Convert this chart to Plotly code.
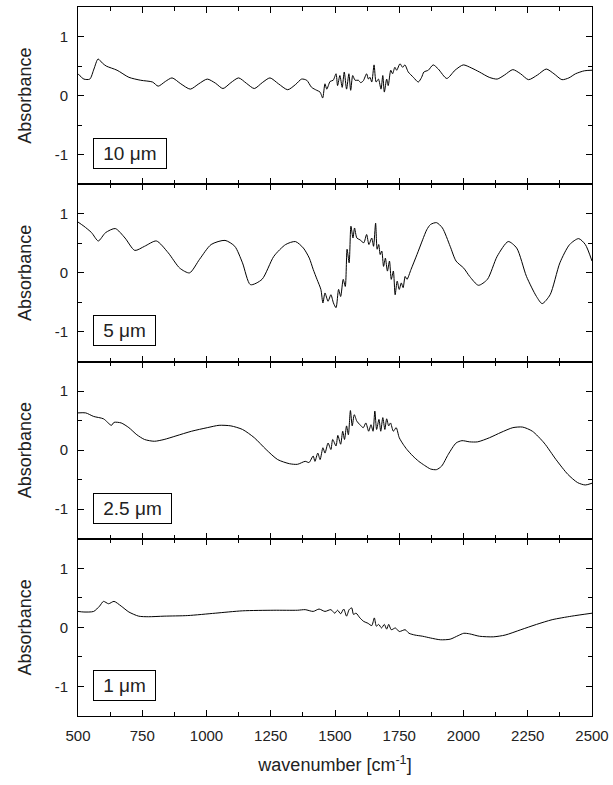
import plotly.graph_objects as go
from plotly.subplots import make_subplots

# ---------------- data ----------------
wn_10 = [500, 523, 546, 562, 578, 595, 610, 652, 698, 744, 790, 812, 840, 866, 900, 937, 970, 1003,
         1035, 1064, 1095, 1125, 1155, 1186, 1217, 1247, 1280, 1316, 1347, 1370, 1390, 1409, 1429,
         1442, 1452, 1461, 1468, 1481, 1493, 1504, 1510, 1519, 1528, 1536, 1545, 1554, 1561, 1569,
         1578, 1591, 1600, 1610, 1623, 1630, 1636, 1643, 1652, 1660, 1669, 1679, 1686, 1692, 1701,
         1707, 1717, 1724, 1733, 1740, 1753, 1763, 1772, 1785, 1805, 1824, 1837, 1846, 1863, 1882,
         1902, 1935, 1967, 1999, 2030, 2062, 2100, 2131, 2160, 2192, 2222, 2253, 2288, 2322, 2352,
         2383, 2410, 2436, 2470, 2500]
abs_10 = [0.37, 0.28, 0.28, 0.45, 0.62, 0.55, 0.50, 0.43, 0.31, 0.26, 0.23, 0.16, 0.24, 0.30, 0.20,
          0.11, 0.20, 0.28, 0.21, 0.12, 0.22, 0.30, 0.21, 0.12, 0.22, 0.30, 0.20, 0.10, 0.19, 0.28,
          0.26, 0.14, 0.09, 0.06, -0.04, 0.20, 0.11, 0.24, 0.26, 0.37, 0.17, 0.34, 0.14, 0.40, 0.11,
          0.37, 0.09, 0.34, 0.26, 0.26, 0.22, 0.25, 0.37, 0.28, 0.31, 0.23, 0.52, 0.23, 0.28, 0.11,
          0.34, 0.06, 0.28, 0.17, 0.43, 0.37, 0.48, 0.43, 0.54, 0.48, 0.52, 0.40, 0.31, 0.23, 0.31,
          0.40, 0.43, 0.52, 0.45, 0.29, 0.43, 0.52, 0.47, 0.40, 0.31, 0.28, 0.35, 0.44, 0.37, 0.27,
          0.35, 0.45, 0.37, 0.27, 0.30, 0.37, 0.42, 0.43]

wn_5 = [500, 523, 553, 579, 607, 645, 683, 721, 759, 805, 851, 896, 934, 973, 1018, 1072, 1110, 1140,
        1171, 1216, 1262, 1308, 1346, 1377, 1400, 1415, 1430, 1445, 1453, 1461, 1473, 1484, 1494,
        1504, 1514, 1522, 1532, 1540, 1547, 1555, 1562, 1570, 1576, 1585, 1597, 1612, 1623, 1632,
        1643, 1650, 1658, 1664, 1670, 1676, 1682, 1689, 1696, 1704, 1712, 1719, 1727, 1734, 1742,
        1750, 1758, 1765, 1773, 1780, 1796, 1819, 1841, 1857, 1872, 1895, 1918, 1948, 1971, 2001,
        2024, 2058, 2093, 2131, 2174, 2207, 2245, 2284, 2306, 2337, 2375, 2413, 2448, 2474, 2500]
abs_5 = [0.86, 0.79, 0.68, 0.54, 0.68, 0.75, 0.59, 0.38, 0.45, 0.54, 0.34, 0.08, 0.00, 0.23, 0.48,
         0.55, 0.45, 0.17, -0.20, -0.11, 0.28, 0.48, 0.53, 0.42, 0.25, 0.06, -0.11, -0.28, -0.51,
         -0.34, -0.48, -0.37, -0.51, -0.59, -0.28, -0.40, -0.11, -0.23, 0.40, 0.17, 0.79, 0.59, 0.76,
         0.59, 0.56, 0.51, 0.65, 0.48, 0.59, 0.45, 0.84, 0.40, 0.48, 0.31, 0.37, 0.11, 0.25, 0.03,
         0.20, -0.11, 0.03, -0.37, -0.14, -0.28, -0.17, -0.25, -0.06, -0.11, 0.06, 0.31, 0.56, 0.73,
         0.82, 0.85, 0.76, 0.45, 0.20, 0.08, -0.06, -0.21, -0.11, 0.28, 0.53, 0.42, -0.06, -0.40,
         -0.52, -0.37, 0.17, 0.48, 0.58, 0.48, 0.20]

wn_2p5 = [500, 530, 561, 599, 630, 640, 668, 698, 729, 759, 797, 835, 881, 942, 1003, 1049, 1095,
          1140, 1186, 1232, 1277, 1323, 1354, 1384, 1399, 1415, 1422, 1433, 1442, 1453, 1461, 1473,
          1484, 1491, 1504, 1511, 1522, 1530, 1537, 1545, 1552, 1560, 1567, 1575, 1585, 1597, 1610,
          1620, 1631, 1640, 1648, 1655, 1662, 1671, 1678, 1686, 1694, 1701, 1709, 1716, 1727, 1738,
          1750, 1765, 1780, 1803, 1826, 1849, 1872, 1895, 1915, 1941, 1971, 1994, 2024, 2055, 2101,
          2146, 2192, 2230, 2268, 2314, 2360, 2406, 2444, 2474, 2500]
abs_2p5 = [0.63, 0.63, 0.57, 0.53, 0.42, 0.47, 0.46, 0.38, 0.26, 0.18, 0.15, 0.18, 0.24, 0.32, 0.38,
           0.42, 0.41, 0.35, 0.21, 0.01, -0.16, -0.23, -0.24, -0.19, -0.21, -0.10, -0.19, -0.05,
           -0.16, 0.04, -0.05, 0.12, 0.01, 0.18, 0.07, 0.25, 0.10, 0.32, 0.18, 0.41, 0.26, 0.67, 0.41,
           0.60, 0.49, 0.43, 0.38, 0.46, 0.32, 0.43, 0.32, 0.66, 0.35, 0.52, 0.32, 0.55, 0.35, 0.53,
           0.41, 0.46, 0.32, 0.38, 0.21, 0.10, 0.01, -0.10, -0.19, -0.26, -0.32, -0.33, -0.27, -0.07,
           0.12, 0.16, 0.14, 0.14, 0.21, 0.30, 0.38, 0.39, 0.32, 0.12, -0.16, -0.41, -0.55, -0.59, -0.56]

wn_1 = [500, 523, 561, 584, 599, 619, 640, 668, 698, 736, 774, 835, 927, 1034, 1140, 1262, 1354, 1384,
        1415, 1438, 1461, 1484, 1499, 1510, 1522, 1534, 1545, 1555, 1565, 1572, 1582, 1597, 1612,
        1628, 1643, 1653, 1661, 1670, 1681, 1692, 1701, 1709, 1719, 1735, 1750, 1773, 1788, 1811,
        1841, 1872, 1910, 1948, 1979, 2001, 2024, 2062, 2116, 2162, 2223, 2284, 2345, 2421, 2500]
abs_1 = [0.27, 0.26, 0.27, 0.36, 0.44, 0.40, 0.44, 0.36, 0.26, 0.19, 0.18, 0.19, 0.20, 0.24, 0.28,
         0.29, 0.29, 0.30, 0.27, 0.31, 0.27, 0.30, 0.24, 0.29, 0.23, 0.31, 0.19, 0.30, 0.33, 0.22,
         0.24, 0.16, 0.10, 0.07, 0.03, 0.16, 0.02, 0.05, -0.01, 0.05, -0.03, 0.05, -0.04, -0.01,
         -0.07, -0.04, -0.10, -0.13, -0.15, -0.18, -0.21, -0.20, -0.14, -0.10, -0.11, -0.15, -0.16,
         -0.13, -0.04, 0.05, 0.13, 0.19, 0.24]

panel_labels = ["10 μm", "5 μm", "2.5 μm", "1 μm"]
y_tick_vals = [-1, 0, 1]
y_tick_text = ["-1", "0", "1"]
x_tick_vals = [500, 750, 1000, 1250, 1500, 1750, 2000, 2250, 2500]

series = [(wn_10, abs_10), (wn_5, abs_5), (wn_2p5, abs_2p5), (wn_1, abs_1)]

# ---------------- figure ----------------
FONT = "Liberation Sans, Arial, sans-serif"
TXT = "#222222"

fig = make_subplots(rows=4, cols=1, shared_xaxes=True, vertical_spacing=0)

for i, (xs, ys) in enumerate(series, start=1):
    fig.add_trace(go.Scatter(x=xs, y=ys, mode="lines",
                             line=dict(color="black", width=1, shape="spline", smoothing=0.7),
                             showlegend=False, hoverinfo="skip"), row=i, col=1)
    fig.update_yaxes(range=[-1.5, 1.5], tickvals=y_tick_vals, ticktext=y_tick_text,
                     ticks="inside", ticklen=6, tickcolor="black",
                     minor=dict(dtick=0.5, ticks="inside", ticklen=4, tickcolor="black"),
                     showline=True, linecolor="black", linewidth=1, mirror="allticks",
                     showgrid=False, zeroline=False, automargin=False,
                     tickfont=dict(family=FONT, size=15, color=TXT),
                     ticklabelstandoff=6,
                     title=dict(text="Absorbance", font=dict(family=FONT, size=18, color=TXT),
                                standoff=18),
                     row=i, col=1)
    fig.update_xaxes(range=[500, 2500], tickvals=x_tick_vals,
                     ticks="inside", ticklen=6, tickcolor="black",
                     minor=dict(dtick=125, tick0=500, ticks="inside", ticklen=4, tickcolor="black"),
                     showline=True, linecolor="black", linewidth=1, mirror="allticks",
                     showgrid=False, zeroline=False, automargin=False,
                     showticklabels=(i == 4),
                     tickfont=dict(family=FONT, size=15, color=TXT),
                     ticklabelstandoff=6,
                     row=i, col=1)
    yref = "y" if i == 1 else f"y{i}"
    xref = "x domain" if i == 1 else f"x{i} domain"
    fig.add_annotation(x=0.029, xref=xref, y=-0.98, yref=yref, xanchor="left", yanchor="middle",
                       text=" " + panel_labels[i - 1] + " ", showarrow=False,
                       font=dict(family=FONT, size=19, color=TXT),
                       bordercolor="black", borderwidth=1, borderpad=4, bgcolor="white")

fig.update_xaxes(title=dict(text="wavenumber [cm<sup>-1</sup>]",
                            font=dict(family=FONT, size=18, color=TXT), standoff=15),
                 row=4, col=1)

fig.update_layout(width=613, height=785, margin=dict(l=78, r=21, t=7, b=69),
                  plot_bgcolor="white", paper_bgcolor="white")

fig.write_html("out.html", config={"displayModeBar": False},
               post_script="document.body.style.margin='0';")
